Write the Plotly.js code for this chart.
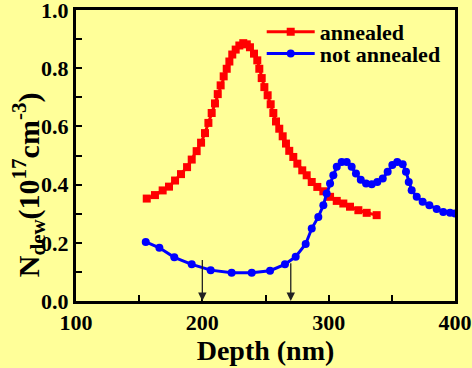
<!DOCTYPE html>
<html><head><meta charset="utf-8">
<script src="https://cdn.plot.ly/plotly-3.0.1.min.js"></script>
<style>html,body{margin:0;padding:0;background:#ffff99;}</style>
</head><body><div id="plot" style="width:472px;height:368px;"></div>
<script>
const annealedX = [156.0,162.5,168.6,173.6,178.4,183.1,187.9,191.6,195.5,199.0,202.1,204.8,207.4,210.0,212.2,214.5,216.9,219.3,221.4,223.7,226.4,229.3,232.4,235.2,237.7,240.9,243.5,245.1,247.0,249.1,251.7,254.1,256.2,258.3,260.9,263.6,266.2,268.8,272.0,275.2,279.1,282.6,286.6,291.0,295.8,301.1,306.4,311.6,316.9,323.5,330.1,338.0];
const annealedY = [0.352,0.364,0.380,0.393,0.414,0.436,0.460,0.486,0.515,0.544,0.577,0.612,0.646,0.679,0.711,0.741,0.772,0.798,0.823,0.847,0.864,0.878,0.886,0.882,0.872,0.850,0.827,0.798,0.766,0.735,0.707,0.676,0.646,0.617,0.592,0.566,0.541,0.516,0.495,0.472,0.449,0.432,0.409,0.392,0.377,0.358,0.344,0.335,0.324,0.312,0.303,0.295];
const notAnnealedX = [155.2,166.0,177.8,191.6,206.6,223.2,239.1,253.6,265.4,273.9,281.8,286.6,291.8,295.8,298.4,301.1,303.7,306.4,310.3,314.3,318.2,321.6,325.4,329.6,334.1,338.5,342.8,346.7,350.4,354.3,358.6,361.2,363.4,365.7,369.7,374.4,379.7,385.5,390.7,396.1,400.0];
const notAnnealedY = [0.203,0.183,0.150,0.126,0.106,0.097,0.097,0.104,0.126,0.152,0.196,0.249,0.289,0.329,0.369,0.404,0.432,0.461,0.478,0.478,0.461,0.438,0.417,0.404,0.401,0.409,0.421,0.444,0.467,0.478,0.470,0.444,0.409,0.381,0.358,0.341,0.329,0.316,0.306,0.303,0.301];
const arrowX = [200, 270];
const arrowTopY = [0.146, 0.135];
const xTicks = [100, 200, 300, 400];
const yTicks = [0.0, 0.2, 0.4, 0.6, 0.8, 1.0];
const yTickText = ['0.0','0.2','0.4','0.6','0.8','1.0'];
const yTitle = 'N<sub>dew</sub>(10<sup>17</sup>cm<sup>-3</sup>)';

const FAM = 'Liberation Serif';
function f(size) { return {family: FAM, size: size, color: '#000', weight: 'bold'}; }
const traces = [
  {x: annealedX, y: annealedY, name: 'annealed', mode: 'lines+markers', legend: 'legend',
   line: {color: '#ff0000', width: 3}, marker: {symbol: 'square', size: 8, color: '#ff0000'}},
  {x: notAnnealedX, y: notAnnealedY, name: 'not annealed', mode: 'lines+markers', legend: 'legend2',
   line: {color: '#0000ff', width: 3}, marker: {symbol: 'circle', size: 8, color: '#0000ff'}}
];
const annotations = arrowX.map((x, i) => ({
  x: x, y: 0, xref: 'x', yref: 'y', ax: x, ay: arrowTopY[i], axref: 'x', ayref: 'y',
  showarrow: true, arrowhead: 2, arrowsize: 1.3, arrowwidth: 1.3, arrowcolor: '#222', text: ''
}));
annotations.push({text: yTitle, xref: 'paper', yref: 'paper', x: -0.125, y: 0.40,
  xanchor: 'center', yanchor: 'middle', textangle: -90, showarrow: false, font: f(30)});
const legBase = {x: 0.49, xanchor: 'left', yanchor: 'middle', bgcolor: 'rgba(0,0,0,0)',
  font: f(22), itemwidth: 48};
const layout = {
  width: 472, height: 368,
  paper_bgcolor: '#ffff99', plot_bgcolor: '#ffff99',
  margin: {l: 76, r: 17, t: 10, b: 67},
  showlegend: true,
  legend: Object.assign({y: 0.925}, legBase),
  legend2: Object.assign({y: 0.85}, legBase),
  xaxis: {range: [100, 400], tickvals: xTicks, ticktext: xTicks.map(String),
    ticks: 'inside', ticklen: 6, tickwidth: 2, tickcolor: '#000', ticklabeloverflow: 'allow',
    minor: {dtick: 50, tick0: 100, ticks: 'inside', ticklen: 6, tickwidth: 2, tickcolor: '#000'},
    showline: true, linewidth: 3, linecolor: '#000', mirror: true, showgrid: false, zeroline: false,
    tickfont: f(22),
    title: {text: 'Depth (nm)', font: f(28), standoff: 2}},
  yaxis: {range: [0, 1.0], tickvals: yTicks, ticktext: yTickText,
    ticks: 'inside', ticklen: 6, tickwidth: 2, tickcolor: '#000', ticklabeloverflow: 'allow',
    minor: {dtick: 0.1, tick0: 0, ticks: 'inside', ticklen: 6, tickwidth: 2, tickcolor: '#000'},
    showline: true, linewidth: 3, linecolor: '#000', mirror: true, showgrid: false, zeroline: false,
    tickfont: f(22)},
  annotations: annotations
};
Plotly.newPlot('plot', traces, layout, {displayModeBar: false, staticPlot: true});
</script></body></html>
